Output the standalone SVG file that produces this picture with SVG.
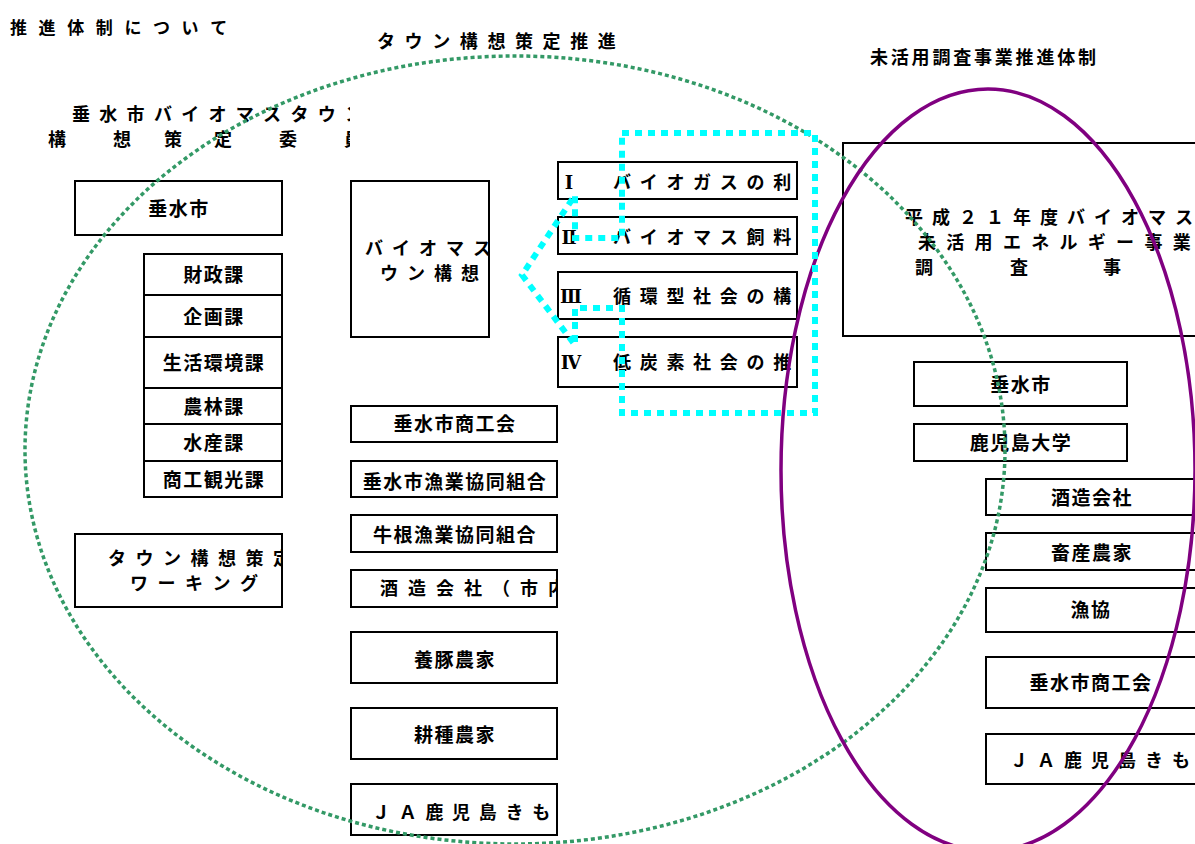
<svg xmlns="http://www.w3.org/2000/svg" width="1195" height="844" viewBox="0 0 1195 844">
<style>
text{font-family:"Noto Sans CJK JP","Noto Sans",sans-serif;font-weight:bold;fill:#000}
.t19{font-size:19px;letter-spacing:1.5px}
.s18{font-size:18px}
.rn{font-family:"DejaVu Serif","Liberation Serif","Noto Sans CJK JP",serif;font-weight:bold}
.box{fill:none;stroke:#000;stroke-width:2}
.mid{text-anchor:middle}
</style>
<defs>
<clipPath id="cCommittee"><rect x="0" y="90" width="350" height="70"/></clipPath>
<clipPath id="cWork"><rect x="75" y="534" width="207" height="73"/></clipPath>
<clipPath id="cBio"><rect x="351" y="181" width="138" height="156"/></clipPath>
<clipPath id="cSake"><rect x="351" y="570" width="206" height="37"/></clipPath>
<clipPath id="cJA1"><rect x="351" y="784" width="206" height="51"/></clipPath>
<clipPath id="cR1"><rect x="558" y="162" width="239" height="37"/></clipPath>
<clipPath id="cR2"><rect x="558" y="217" width="239" height="37"/></clipPath>
<clipPath id="cR3"><rect x="558" y="272" width="239" height="47"/></clipPath>
<clipPath id="cR4"><rect x="558" y="337" width="239" height="50"/></clipPath>
</defs>
<g id="titles">
<text y="34" style="font-size:17px" x="10 38.6 67.2 95.8 124.4 153 181.6 210.2">推進体制について</text>
<text y="48" style="font-size:18px" x="377 404.6 432.2 459.8 487.4 515 542.6 570.2 597.8">タウン構想策定推進</text>
<text y="64" style="font-size:18px" x="870 890.8 911.6 932.4 953.2 974 994.8 1015.6 1036.4 1057.2 1078">未活用調査事業推進体制</text>
</g>
<g id="committee" clip-path="url(#cCommittee)">
<text y="121" style="font-size:18px" x="72 99.3 126.6 153.9 181.2 208.5 235.8 263.1 290.4 317.7 345">垂水市バイオマスタウン</text>
<text y="146" style="font-size:18px" x="48 113 164 214 279 344">構想策定委員</text>
</g>
<g id="n-tarumizu">
<rect class="box" x="75" y="181" width="207" height="54"/>
<text class="t19 mid" x="179" y="216">垂水市</text>
</g>
<g id="n-depts">
<rect class="box" x="144" y="254" width="138" height="41"/>
<text class="t19 mid" x="214" y="282">財政課</text>
<rect class="box" x="144" y="295" width="138" height="42"/>
<text class="t19 mid" x="214" y="324">企画課</text>
<rect class="box" x="144" y="337" width="138" height="51"/>
<text class="t19 mid" x="214" y="370">生活環境課</text>
<rect class="box" x="144" y="388" width="138" height="36"/>
<text class="t19 mid" x="214" y="414">農林課</text>
<rect class="box" x="144" y="424" width="138" height="37"/>
<text class="t19 mid" x="214" y="450">水産課</text>
<rect class="box" x="144" y="461" width="138" height="36"/>
<text class="t19 mid" x="214" y="487">商工観光課</text>
</g>
<g id="n-working">
<rect class="box" x="75" y="534" width="207" height="73"/>
<g clip-path="url(#cWork)">
<text class="s18" y="565" x="108 135.5 163 190.5 218 245.5 273">タウン構想策定</text>
<text class="s18" y="590" x="130 157.5 185 212.5 240">ワーキング</text>
</g>
</g>
<g id="n-biomass">
<rect class="box" x="351" y="181" width="138" height="156"/>
<g clip-path="url(#cBio)">
<text class="s18" y="255" x="365 392 419 446 473 500">バイオマスタ</text>
<text class="s18" y="280" x="380 407 434 461">ウン構想</text>
</g>
</g>
<g id="n-members">
<rect class="box" x="351" y="406" width="206" height="36"/>
<text class="t19 mid" x="455" y="431">垂水市商工会</text>
<rect class="box" x="351" y="461" width="206" height="36"/>
<text class="t19 mid" x="455" y="489">垂水市漁業協同組合</text>
<rect class="box" x="351" y="515" width="206" height="37"/>
<text class="t19 mid" x="455" y="542">牛根漁業協同組合</text>
<rect class="box" x="351" y="570" width="206" height="37"/>
<text class="s18" y="595" clip-path="url(#cSake)" x="380 408 436 464 492 520 548 576">酒造会社（市内）</text>
<rect class="box" x="351" y="632" width="206" height="51"/>
<text class="t19 mid" x="455" y="667">養豚農家</text>
<rect class="box" x="351" y="708" width="206" height="51"/>
<text class="t19 mid" x="455" y="742">耕種農家</text>
<rect class="box" x="351" y="784" width="206" height="51"/>
<text class="s18" y="819" clip-path="url(#cJA1)" x="372 398.7 425.4 452.1 478.8 505.5 532.2 558.9 585.6">ＪＡ鹿児島きもつき</text>
</g>
<g id="n-themes">
<rect class="box" x="558" y="162" width="239" height="37"/>
<g clip-path="url(#cR1)">
<text class="s18 rn" x="569" y="189" text-anchor="middle">Ⅰ</text>
<text class="s18" y="189" x="613 639.7 666.4 693.1 719.8 746.5 773.2 799.9">バイオガスの利用</text>
</g>
<rect class="box" x="558" y="217" width="239" height="37"/>
<g clip-path="url(#cR2)">
<text class="s18 rn" x="569" y="244" text-anchor="middle">Ⅱ</text>
<text class="s18" y="244" x="613 639.7 666.4 693.1 719.8 746.5 773.2">バイオマス飼料</text>
</g>
<rect class="box" x="558" y="272" width="239" height="47"/>
<g clip-path="url(#cR3)">
<text class="s18 rn" x="571" y="303" text-anchor="middle">Ⅲ</text>
<text class="s18" y="303" x="613 639.7 666.4 693.1 719.8 746.5 773.2 799.9">循環型社会の構築</text>
</g>
<rect class="box" x="558" y="337" width="239" height="50"/>
<g clip-path="url(#cR4)">
<text class="s18 rn" x="571" y="369" text-anchor="middle">Ⅳ</text>
<text class="s18" y="369" x="613 639.7 666.4 693.1 719.8 746.5 773.2 799.9">低炭素社会の推進</text>
</g>
</g>
<g id="n-survey">
<rect class="box" x="843" y="143" width="370" height="193"/>
<text class="s18" y="224" x="905 932 959 986 1013 1040 1067 1094 1121 1148 1175">平成２１年度バイオマス</text>
<text class="s18" y="249" x="918 946.3 974.6 1002.9 1031.2 1059.5 1087.8 1116.1 1144.4 1172.7">未活用エネルギー事業</text>
<text class="s18" y="274" x="915 1010 1103">調査事</text>
</g>
<g id="n-survey-members">
<rect class="box" x="914" y="362" width="213" height="44"/>
<text class="t19 mid" x="1021" y="392">垂水市</text>
<rect class="box" x="914" y="424" width="213" height="37"/>
<text class="t19 mid" x="1021" y="450">鹿児島大学</text>
<rect class="box" x="986" y="479" width="230" height="36"/>
<text class="t19 mid" x="1092" y="505">酒造会社</text>
<rect class="box" x="986" y="533" width="230" height="37"/>
<text class="t19 mid" x="1092" y="560">畜産農家</text>
<rect class="box" x="986" y="588" width="230" height="44"/>
<text class="t19 mid" x="1091" y="617">漁協</text>
<rect class="box" x="986" y="657" width="230" height="51"/>
<text class="t19 mid" x="1091" y="690">垂水市商工会</text>
<rect class="box" x="986" y="734" width="230" height="50"/>
<text class="s18" y="767" x="1010 1037 1064 1091 1118 1145 1172">ＪＡ鹿児島きも</text>
</g>
<g id="connectors">
<ellipse cx="515" cy="450" rx="490" ry="394" fill="none" stroke="#339966" stroke-width="3.5" stroke-dasharray="4 3"/>
<ellipse cx="988" cy="470" rx="207" ry="381" fill="none" stroke="#800080" stroke-width="3.5"/>
<path d="M622,133 L815,133 L815,413 L622,413 L622,308 L575,308 L575,345 L522,275 L575,195 L575,238 L622,238 Z" fill="none" stroke="#00FFFF" stroke-width="6" stroke-dasharray="7 6"/>
</g>
</svg>
